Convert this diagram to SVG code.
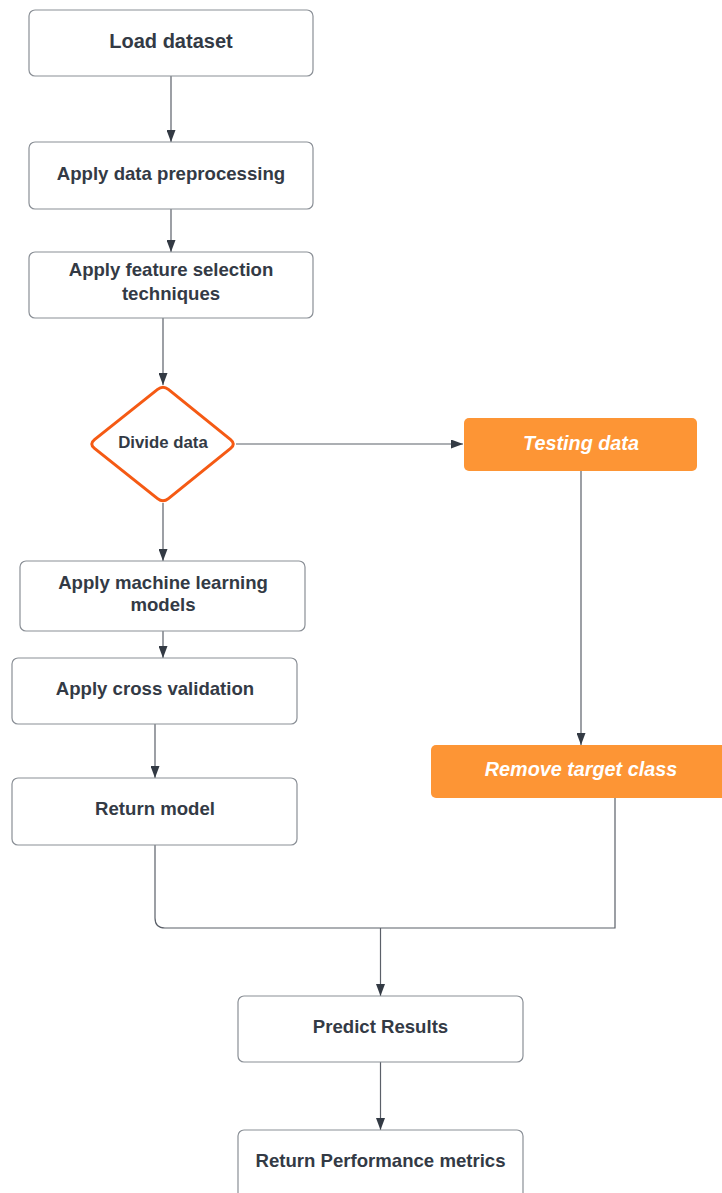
<svg xmlns="http://www.w3.org/2000/svg" width="722" height="1193" viewBox="0 0 722 1193">
<style>
.box{fill:#ffffff;stroke:#8a8f96;stroke-width:1.2}
.obox{fill:#FD9535;stroke:none}
.t{font-family:"Liberation Sans",Arial,sans-serif;font-weight:bold;fill:#333a45;text-anchor:middle;dominant-baseline:central}
.ti{font-family:"Liberation Sans",Arial,sans-serif;font-weight:bold;font-style:italic;fill:#ffffff;text-anchor:middle;dominant-baseline:central;font-size:19.8px}
.ln{fill:none;stroke:#5b6069;stroke-width:1.2}
</style>
<defs>
<marker id="ah" viewBox="0 0 12 9" refX="12" refY="4.5" markerWidth="12" markerHeight="9" markerUnits="userSpaceOnUse" orient="auto">
<path d="M0,0 L12,4.5 L0,9 z" fill="#333a44"/>
</marker>
</defs>
<rect width="722" height="1193" fill="#ffffff"/>
<g id="connectors">
<line class="ln" x1="171" y1="76" x2="171" y2="142" marker-end="url(#ah)"/>
<line class="ln" x1="171" y1="209" x2="171" y2="252" marker-end="url(#ah)"/>
<line class="ln" x1="163" y1="318" x2="163" y2="385" marker-end="url(#ah)"/>
<line class="ln" x1="236" y1="444" x2="463" y2="444" marker-end="url(#ah)"/>
<line class="ln" x1="163" y1="503" x2="163" y2="561" marker-end="url(#ah)"/>
<line class="ln" x1="163" y1="631" x2="163" y2="658" marker-end="url(#ah)"/>
<line class="ln" x1="155" y1="724" x2="155" y2="778" marker-end="url(#ah)"/>
<line class="ln" x1="581" y1="471" x2="581" y2="745" marker-end="url(#ah)"/>
<path class="ln" d="M155,845 L155,918 Q155,928 165,928 L615,928 L615,798"/>
<line class="ln" x1="380.5" y1="928" x2="380.5" y2="996" marker-end="url(#ah)"/>
<line class="ln" x1="380.5" y1="1062" x2="380.5" y2="1130" marker-end="url(#ah)"/>
</g>
<g id="load">
<rect class="box" x="29" y="10" width="284" height="66" rx="6"/>
<text class="t" x="171" y="40.5" font-size="20">Load dataset</text>
</g>
<g id="preprocess">
<rect class="box" x="29" y="142" width="284" height="67" rx="6"/>
<text class="t" x="171" y="173.5" font-size="18.6">Apply data preprocessing</text>
</g>
<g id="featsel">
<rect class="box" x="29" y="252" width="284" height="66" rx="6"/>
<text class="t" x="171" y="269.5" font-size="18.6">Apply feature selection</text>
<text class="t" x="171" y="293.5" font-size="18.6">techniques</text>
</g>
<g id="divide">
<path d="M168.4,389.4 L230.6,439.6 Q236,444 230.6,448.4 L168.4,498.6 Q163,503 157.6,498.6 L94.5,448.4 Q89,444 94.5,439.6 L157.6,389.4 Q163,385 168.4,389.4 Z" fill="#ffffff" stroke="#F55A14" stroke-width="3"/>
<text class="t" x="163" y="442.5" font-size="16.8">Divide data</text>
</g>
<g id="testing">
<rect class="obox" x="464" y="418" width="233" height="53" rx="5"/>
<text class="ti" x="581" y="442.5">Testing data</text>
</g>
<g id="remove">
<rect class="obox" x="431" y="745" width="300" height="53" rx="5"/>
<text class="ti" x="581" y="768.5">Remove target class</text>
</g>
<g id="ml">
<rect class="box" x="20" y="561" width="285" height="70" rx="6"/>
<text class="t" x="163" y="582.5" font-size="18.6">Apply machine learning</text>
<text class="t" x="163" y="604.5" font-size="18.6">models</text>
</g>
<g id="cv">
<rect class="box" x="12" y="658" width="285" height="66" rx="6"/>
<text class="t" x="155" y="688.5" font-size="18.6">Apply cross validation</text>
</g>
<g id="retmodel">
<rect class="box" x="12" y="778" width="285" height="67" rx="6"/>
<text class="t" x="155" y="808.5" font-size="18.6">Return model</text>
</g>
<g id="predict">
<rect class="box" x="238" y="996" width="285" height="66" rx="6"/>
<text class="t" x="380.5" y="1026.5" font-size="18.6">Predict Results</text>
</g>
<g id="perf">
<rect class="box" x="238" y="1130" width="285" height="70" rx="6"/>
<text class="t" x="380.5" y="1160.5" font-size="18.6">Return Performance metrics</text>
</g>
</svg>
